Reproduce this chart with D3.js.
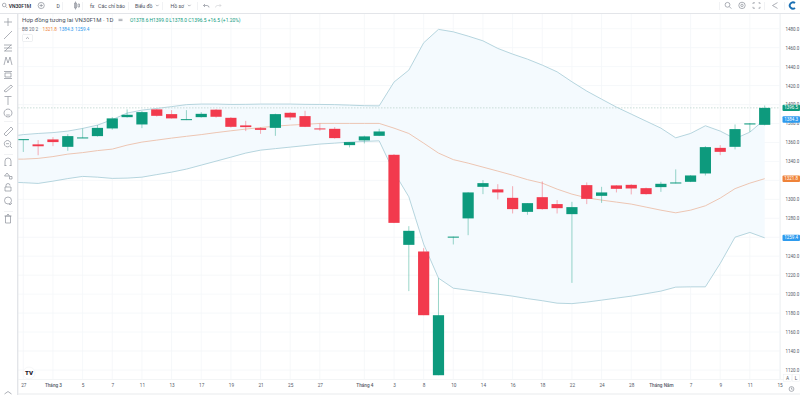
<!DOCTYPE html>
<html>
<head>
<meta charset="utf-8">
<script src="https://d3js.org/d3.v7.min.js"></script>
<style>
  html, body { margin: 0; padding: 0; background: #fff; overflow: hidden; }
  text { font-family: Roboto, "Liberation Sans", sans-serif; }
  .icon { fill: none; stroke: #8b8f99; stroke-width: 0.7; }
  .axis path, .axis line { display: none; }
</style>
</head>
<body>
<svg id="chart" width="800" height="395"></svg>
<script>
// candles, oldest first
var opens = [1362.5, 1358, 1363.2, 1355.4, 1364.6, 1366.7, 1374.8, 1386.7, 1379, 1394.9, 1389.9, 1383.6, 1386.7, 1394.6, 1386, 1378, 1375.1, 1375.4, 1391.3, 1387.8, 1374.8, 1374.4, 1357.2, 1362.2, 1367, 1347, 1252, 1245, 1114.5, 1259.6, 1279.9, 1313.2, 1310.5, 1301.6, 1286.8, 1302.3, 1295, 1284.4, 1315, 1303.7, 1314.7, 1315.3, 1311.8, 1312.9, 1316.8, 1318.5, 1327.3, 1354.3, 1355.4, 1379, 1378.6];
var highs = [1363.5, 1362.5, 1365.6, 1368.8, 1374.8, 1378.3, 1386.7, 1394.9, 1393.1, 1395.2, 1394.1, 1394.1, 1392, 1395.2, 1386.7, 1382.8, 1376.2, 1390.4, 1392, 1393.4, 1380.1, 1376.2, 1360.4, 1367.2, 1374.4, 1347.7, 1271.7, 1248.5, 1216.9, 1260.7, 1307.6, 1320.3, 1316, 1313.9, 1296, 1318.9, 1299.2, 1297.4, 1317.8, 1313.2, 1315, 1316, 1312.4, 1318.5, 1331.6, 1325.5, 1356.1, 1357.2, 1379, 1380.5, 1399];
var lows = [1350, 1346.5, 1356.1, 1351.2, 1364.6, 1366.2, 1373.5, 1386.2, 1375.1, 1387.3, 1385.2, 1383.6, 1386.2, 1386.2, 1375.7, 1372, 1369.1, 1367, 1383.6, 1376.2, 1372.3, 1364, 1354.8, 1359, 1366.7, 1274.9, 1203.2, 1177.8, 1114.5, 1252.4, 1262.2, 1305.5, 1299.9, 1285.1, 1283.7, 1289.1, 1285.1, 1211.9, 1295, 1296.3, 1307.3, 1305.2, 1305, 1307.9, 1316.8, 1318.2, 1325.2, 1346.6, 1352.7, 1371.2, 1378];
var closes = [1363.5, 1356, 1360.4, 1366.7, 1365.3, 1375.4, 1385.4, 1389.2, 1392, 1388.1, 1385.4, 1384.6, 1390.2, 1387.1, 1376.5, 1376.2, 1373.3, 1389.9, 1386.4, 1376.5, 1374.1, 1364.6, 1360.4, 1366.4, 1371.6, 1275.2, 1266.8, 1177.8, 1177.8, 1260.7, 1307.3, 1317.1, 1307.3, 1289.7, 1296, 1289.7, 1290.7, 1291.8, 1300.5, 1307.3, 1311.1, 1311.5, 1305.5, 1316.4, 1317.8, 1325.2, 1355.1, 1350.1, 1374.1, 1380.1, 1396.5];

// bollinger bands, these start one bar before the first candle
var bbUpper = [1366.2, 1368.3, 1369.5, 1370.4, 1372, 1374.8, 1378.3, 1384.1, 1391, 1394.1, 1395.9, 1397.8, 1399.9, 1400.5, 1400.5, 1400.1, 1400.2, 1400.5, 1400.5, 1400.5, 1400.2, 1400.1, 1399.9, 1399.4, 1398.8, 1398.6, 1423.7, 1436.3, 1465.1, 1479.3, 1476.7, 1472.2, 1467.2, 1459.2, 1453.2, 1447.9, 1441.6, 1434.5, 1424, 1414.2, 1405.7, 1397.3, 1389.9, 1382.5, 1375.1, 1364.9, 1369.5, 1377.6, 1372, 1364, 1370.9, 1384.3];
var bbBasis = [1342.4, 1342.4, 1343.2, 1345.1, 1347.7, 1349.3, 1351.4, 1353, 1357.2, 1360.4, 1362.5, 1364.6, 1366.5, 1368.3, 1370.4, 1372.3, 1374.1, 1375.7, 1377.2, 1378.3, 1379.1, 1380.1, 1380.1, 1380.1, 1380.1, 1380.1, 1375.1, 1369.5, 1359.3, 1348.8, 1341.9, 1338.2, 1334, 1329.8, 1325.5, 1320.8, 1317.1, 1310.8, 1305.5, 1301.6, 1299.2, 1297.1, 1295, 1291.8, 1288.6, 1285.8, 1288.6, 1293.2, 1301.3, 1311.3, 1317.1, 1321.8];
var bbLower = [1318.2, 1317.6, 1316.8, 1319.2, 1321.9, 1324.2, 1323.4, 1322.1, 1322.4, 1323.4, 1326.1, 1328.7, 1331.9, 1336.1, 1340.3, 1344.5, 1348.8, 1351.9, 1353.5, 1355.1, 1356.7, 1358.3, 1359.3, 1360.4, 1361.1, 1361.7, 1328.7, 1302.7, 1252.8, 1216.9, 1206.3, 1204.2, 1202.1, 1200, 1197.9, 1195.3, 1193.1, 1190.5, 1190, 1191.6, 1193.7, 1195.8, 1197.9, 1200.5, 1203.2, 1207.4, 1207.7, 1207.7, 1232.4, 1260.1, 1265.1, 1259.4];

var timeTickBars = [0, 2, 4, 6, 8, 10, 12, 14, 16, 18, 20, 23, 25, 27, 29, 31, 33, 35, 37, 39, 41, 43, 45, 47, 49, 51];
var timeTickLabels = ["27", "Tháng 3", "5", "7", "11", "13", "17", "19", "21", "25", "27", "Tháng 4", "3", "8", "10", "14", "16", "18", "22", "24", "28", "Tháng Năm", "7", "9", "11", "15"];
var priceTicks = [1120, 1140, 1160, 1180, 1200, 1220, 1240, 1260, 1280, 1300, 1320, 1340, 1360, 1380, 1400, 1420, 1440, 1460, 1480];
// these two sit fully under the coloured labels
var hiddenTicks = [1260, 1320];

var upColor = "#0d9a7d", downColor = "#f23a4d";
var bandColor = "#aed0da", basisColor = "#ecc0aa";

var chart = d3.select("#chart");
var pane = { left: 18, right: 780, top: 14, bottom: 379 };

var x = d3.scaleLinear().domain([0, 50]).range([23.3, 764.7]);
var y = d3.scaleLinear().domain([1120, 1480]).range([370, 28.7]);

chart.append("clipPath").attr("id", "pane-clip").append("rect")
  .attr("x", pane.left).attr("y", pane.top)
  .attr("width", pane.right - pane.left).attr("height", pane.bottom - pane.top);

var plot = chart.append("g").attr("clip-path", "url(#pane-clip)");

// grid
plot.selectAll(".vgrid").data(timeTickBars).enter().append("line")
  .attr("x1", function (d) { return x(d); }).attr("x2", function (d) { return x(d); })
  .attr("y1", pane.top).attr("y2", pane.bottom)
  .attr("stroke", "#f4f6f9").attr("stroke-width", 0.8);
plot.selectAll(".hgrid").data(priceTicks).enter().append("line")
  .attr("x1", pane.left).attr("x2", pane.right)
  .attr("y1", function (d) { return y(d); }).attr("y2", function (d) { return y(d); })
  .attr("stroke", "#f4f6f9").attr("stroke-width", 0.8);

// bands
var barIndex = d3.range(-1, 51);
var area = d3.area()
  .x(function (d) { return x(d); })
  .y0(function (d) { return y(bbLower[d + 1]); })
  .y1(function (d) { return y(bbUpper[d + 1]); });
plot.append("path").datum(barIndex).attr("d", area).attr("fill", "#f4fafe");

function bandLine(values, color) {
  var line = d3.line()
    .x(function (d) { return x(d); })
    .y(function (d) { return y(values[d + 1]); });
  plot.append("path").datum(barIndex).attr("d", line)
    .attr("fill", "none").attr("stroke", color).attr("stroke-width", 0.9);
}
bandLine(bbUpper, bandColor);
bandLine(bbLower, bandColor);
bandLine(bbBasis, basisColor);

// last price line
var lastClose = closes[closes.length - 1];
plot.append("line")
  .attr("x1", pane.left).attr("x2", pane.right)
  .attr("y1", y(lastClose)).attr("y2", y(lastClose))
  .attr("stroke", "#bcd5ce").attr("stroke-width", 0.8).attr("stroke-dasharray", "1.5 1.5");

// candles
var bars = plot.selectAll(".bar").data(closes).enter().append("g");
function barColor(d, i) { return d >= opens[i] ? upColor : downColor; }
bars.append("line")
  .attr("x1", function (d, i) { return x(i); }).attr("x2", function (d, i) { return x(i); })
  .attr("y1", function (d, i) { return y(highs[i]); }).attr("y2", function (d, i) { return y(lows[i]); })
  .attr("stroke", barColor).attr("stroke-width", 0.7).attr("stroke-opacity", 0.6);
bars.append("rect")
  .attr("x", function (d, i) { return x(i) - 5.6; })
  .attr("width", 11.2)
  .attr("y", function (d, i) { return y(Math.max(d, opens[i])); })
  .attr("height", function (d, i) { return Math.max(1, Math.abs(y(d) - y(opens[i]))); })
  .attr("fill", barColor);

// axes
chart.append("g").attr("class", "axis")
  .attr("transform", "translate(0," + 387 + ")")
  .call(d3.axisBottom(x).tickValues(timeTickBars).tickSize(0).tickPadding(0)
    .tickFormat(function (d, i) { return timeTickLabels[i]; }))
  .selectAll("text")
  .attr("dy", "0.1em")
  .attr("font-size", 4.7)
  .attr("font-weight", function (d, i) { return timeTickLabels[i].indexOf("Tháng") === 0 ? 500 : 400; })
  .attr("fill", "#555a66");

chart.append("g").attr("class", "axis")
  .attr("transform", "translate(785.5,0)")
  .call(d3.axisRight(y)
    .tickValues(priceTicks.filter(function (d) { return hiddenTicks.indexOf(d) < 0; }))
    .tickSize(0).tickPadding(0).tickFormat(d3.format(".1f")))
  .selectAll("text")
  .attr("font-size", 4.5)
  .attr("fill", "#555a66");

// frames
chart.append("rect").attr("x", 0).attr("y", 13).attr("width", 800).attr("height", 1).attr("fill", "#e3e5e9");
chart.append("rect").attr("x", 17).attr("y", 14).attr("width", 1.4).attr("height", 381).attr("fill", "#e3e5e9");
chart.append("rect").attr("x", 780).attr("y", 14).attr("width", 0.6).attr("height", 365).attr("fill", "#eceef1");
chart.append("rect").attr("x", 18).attr("y", 379).attr("width", 782).attr("height", 0.6).attr("fill", "#eceef1");
chart.append("rect").attr("x", 18).attr("y", 393.5).attr("width", 782).attr("height", 1).attr("fill", "#e9ebee");

// price labels on the axis
function priceLabel(value, color) {
  chart.append("rect").attr("x", 782.5).attr("y", y(value) - 3.2).attr("width", 17.5).attr("height", 6.4)
    .attr("rx", 1).attr("fill", color);
  chart.append("text").attr("x", 791.2).attr("y", y(value) + 1.6).attr("text-anchor", "middle")
    .attr("font-size", 4.5).attr("fill", "#fff").text(value.toFixed(1));
}
priceLabel(bbUpper[bbUpper.length - 1], "#2e9bee");
priceLabel(lastClose, upColor);
priceLabel(bbBasis[bbBasis.length - 1], "#ef8339");
priceLabel(bbLower[bbLower.length - 1], "#2e9bee");

// legend
function label(px, py, str, size, color, weight) {
  return chart.append("text").attr("x", px).attr("y", py).attr("font-size", size)
    .attr("fill", color).attr("font-weight", weight || 400).text(str);
}
label(22, 21.5, "Hợp đồng tương lai VN30F1M · 1D", 6, "#4a4f5b");
label(130, 21.5, "O1378.6 H1399.0 L1378.0 C1396.5 +16.5 (+1.20%)", 4.9, upColor);
label(22, 30.7, "BB 20 2", 4.7, "#6a6f7a");
label(42.5, 30.7, "1321.8", 4.7, "#ef8339");
label(59, 30.7, "1384.3", 4.7, "#2e9bee");
label(75, 30.7, "1259.4", 4.7, "#2e9bee");
chart.append("rect").attr("x", 22.5).attr("y", 34.5).attr("width", 10).attr("height", 7)
  .attr("rx", 1).attr("fill", "#fff").attr("stroke", "#e3e5e9").attr("stroke-width", 0.6);
chart.append("path").attr("class", "icon").attr("d", "M26 38.8 L27.5 37.4 L29 38.8");
chart.append("path").attr("class", "icon").attr("d", "M118.5 19.3 H122.5 M118.5 20.6 H122.5");

// top toolbar
label(8.7, 7.5, "VN30F1M", 5, "#2a2e39", 600);
label(56.5, 7.7, "D", 5, "#4a4f5b");
label(90, 7.7, "fx", 5.4, "#4a4f5b");
label(98, 7.5, "Các chỉ báo", 5.2, "#4a4f5b");
label(135, 7.5, "Biểu đồ", 5.2, "#4a4f5b");
label(170.5, 7.5, "Hồ sơ", 5.2, "#4a4f5b");

chart.append("circle").attr("class", "icon").attr("cx", 4.2).attr("cy", 5).attr("r", 1.8);
chart.append("path").attr("class", "icon").attr("d", "M5.6 6.4 L7.2 8");
chart.append("circle").attr("class", "icon").attr("cx", 41.2).attr("cy", 5.5).attr("r", 3.1);
chart.append("path").attr("class", "icon").attr("d", "M41.2 3.8 V7.2 M39.5 5.5 H42.9");
chart.append("path").attr("class", "icon").attr("d", "M74.5 3 h2 v5 h-2 z M75.5 1.5 V9.5 M78 4 h1.5 v3 h-1.5 z");
chart.append("path").attr("class", "icon").attr("d", "M156 4.8 l1.3 1.3 l1.3 -1.3 M188 4.8 l1.3 1.3 l1.3 -1.3");
chart.append("path").attr("class", "icon").attr("d", "M203.5 5.5 h3.5 a2 2 0 0 1 2 2 M205 4 l-1.5 1.5 l1.5 1.5");
chart.append("path").attr("class", "icon").attr("stroke-opacity", 0.35).attr("d", "M221 5.5 h-3.5 a2 2 0 0 0 -2 2 M219.5 4 l1.5 1.5 l-1.5 1.5");
[29, 62, 82, 128, 162, 197].forEach(function (sx) {
  chart.append("rect").attr("x", sx).attr("y", 2).attr("width", 0.5).attr("height", 8).attr("fill", "#e3e5e9");
});

// right toolbar
chart.append("circle").attr("class", "icon").attr("cx", 727.5).attr("cy", 4.8).attr("r", 2.4);
chart.append("path").attr("class", "icon").attr("d", "M729.3 6.6 L731.3 8.6");
chart.append("circle").attr("class", "icon").attr("cx", 742).attr("cy", 5.4).attr("r", 3.2);
chart.append("circle").attr("class", "icon").attr("cx", 742).attr("cy", 5.4).attr("r", 1.2);
chart.append("path").attr("class", "icon").attr("d", "M753 4 V2.8 H755 M758.5 2.8 H760 V4 M760 6.8 V8.2 H758.5 M755 8.2 H753 V6.8");
chart.append("path").attr("class", "icon").attr("d", "M777.5 2.6 L772.5 5.5 L777.5 8.4");
chart.append("path").attr("d", "M795 3 A3.2 3.2 0 1 0 795 8").attr("fill", "none")
  .attr("stroke", "#1a6fb3").attr("stroke-width", 1.9);
[719, 764, 784].forEach(function (sx) {
  chart.append("rect").attr("x", sx).attr("y", 2).attr("width", 0.5).attr("height", 8).attr("fill", "#e3e5e9");
});

// left toolbar, simple drawn glyphs
var leftIcons = [
  [22, "M8 18 V26 M4 22 H12"],
  [35, "M4 39 L12 31"],
  [48, "M4 45 H12 M4 48 H12 M4 51 H12 M5 51 L11 45"],
  [61, "M4 65 L6 57 L8 63 L10 57 L12 65"],
  [75, "M4 71.5 H12 M4 78.5 H12 M5 73 h6 v4 h-6 z"],
  [88, "M4 91 L11 85 L12.5 86.5 L6 92 Z"],
  [100, "M4.5 96.5 H11.5 M8 96.5 V105"],
  [113, "M8 109 a4 4 0 1 0 0.01 0 M6.2 115 H9.8"],
  [131, "M4 134 L11 127 L13 129 L6 136 Z"],
  [144, "M7.5 140.5 a3.2 3.2 0 1 0 0.01 0 M10 146 L12 148 M6 143.7 H9"],
  [162, "M5 165.5 V161 a3 3 0 0 1 6 0 V165.5 M4.5 165.5 H6.5 M9.5 165.5 H11.5"],
  [175, "M4.5 176 l2.5 -3 l2.5 3 z M9.5 176.5 h2.5 v2.5 h-2.5 z"],
  [188, "M5 187 h6 v4 h-6 z M6 187 v-1.5 a2 2 0 0 1 4 0"],
  [201, "M4.5 200.5 a3.5 3.5 0 1 1 7 0 a3.5 3.5 0 1 1 -7 0 M9 204 l1 1 l2 -2"],
  [219, "M5.5 216 h5 v7 h-5 z M4.5 216 H11.5 M7 214.5 H9"]
];
chart.selectAll(".left-icon").data(leftIcons).enter().append("path")
  .attr("class", "icon").attr("d", function (d) { return d[1]; });
[121, 154, 211].forEach(function (sy) {
  chart.append("rect").attr("x", 4).attr("y", sy).attr("width", 9).attr("height", 0.5).attr("fill", "#e3e5e9");
});
chart.append("path").attr("class", "icon").attr("d", "M4.5 394 L8 391.5 L11.5 394");

// logo + scale buttons
chart.append("circle").attr("cx", 29).attr("cy", 373).attr("r", 6).attr("fill", "#fff").attr("stroke", "#f0f1f3").attr("stroke-width", 0.6);
chart.append("text").attr("x", 29).attr("y", 375.3).attr("text-anchor", "middle").attr("font-size", 6.2)
  .attr("font-weight", 900).attr("fill", "#1f222b").text("TV");
[["A", 787.5], ["L", 796]].forEach(function (d) {
  chart.append("rect").attr("x", d[1] - 3.7).attr("y", 374.5).attr("width", 7.4).attr("height", 7)
    .attr("fill", "#fff").attr("stroke", "#e9ebee").attr("stroke-width", 0.4);
  chart.append("text").attr("x", d[1]).attr("y", 380).attr("text-anchor", "middle")
    .attr("font-size", 4.8).attr("fill", "#555a66").text(d[0]);
});
chart.append("circle").attr("class", "icon").attr("cx", 791.5).attr("cy", 389).attr("r", 2.4);
chart.append("path").attr("class", "icon").attr("d", "M791.5 387.6 V389.2 H792.6");
</script>
</body>
</html>
